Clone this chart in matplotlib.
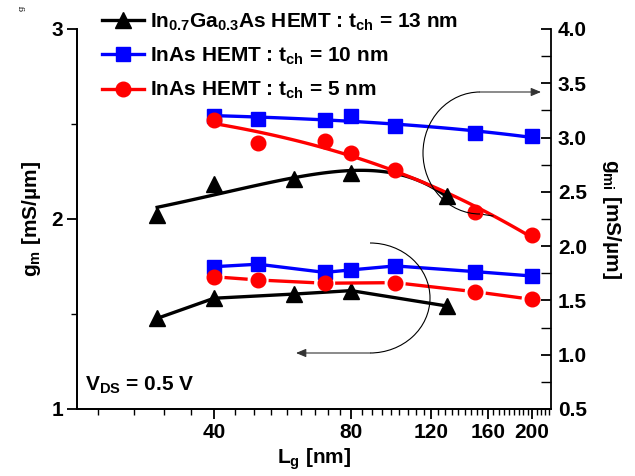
import numpy as np
import matplotlib
matplotlib.use("Agg")
import matplotlib.pyplot as plt
from matplotlib.lines import Line2D
from matplotlib.patches import Arc, FancyArrowPatch
from matplotlib.ticker import FixedLocator, NullFormatter

plt.rcParams['font.family'] = ['Liberation Sans', 'DejaVu Sans']
plt.rcParams['font.weight'] = 'bold'
plt.rcParams['axes.labelweight'] = 'bold'
plt.rcParams['mathtext.fontset'] = 'custom'
plt.rcParams['mathtext.rm'] = 'Liberation Sans:bold'
plt.rcParams['mathtext.it'] = 'Liberation Sans:bold'
plt.rcParams['mathtext.bf'] = 'Liberation Sans:bold'
plt.rcParams['mathtext.default'] = 'rm'

# ---- data ----
# In0.7Ga0.3As HEMT, t_ch = 13 nm
lg_ingaas = [30, 40, 60, 80, 130]
gm_ingaas = [1.477, 1.583, 1.605, 1.623, 1.542]     # left axis
gmi_ingaas = [2.29, 2.57, 2.62, 2.67, 2.46]         # right axis

# InAs HEMT, t_ch = 10 nm
lg_inas10 = [40, 50, 70, 80, 100, 150, 200]
gm_inas10 = [1.749, 1.762, 1.719, 1.732, 1.753, 1.723, 1.700]
gmi_inas10 = [3.20, 3.17, 3.16, 3.20, 3.11, 3.04, 3.01]

# InAs HEMT, t_ch = 5 nm
lg_inas5_gm = [40, 50, 70, 100, 150, 200]
gm_inas5 = [1.696, 1.679, 1.662, 1.665, 1.617, 1.577]
lg_inas5 = [40, 50, 70, 80, 100, 150, 200]
gmi_inas5 = [3.16, 2.95, 2.97, 2.86, 2.70, 2.31, 2.10]

labels = ["In$_{0.7}$Ga$_{0.3}$As HEMT : t$_{ch}$ = 13 nm",
          "InAs HEMT : t$_{ch}$ = 10 nm",
          "InAs HEMT : t$_{ch}$ = 5 nm"]
xticks = [40, 80, 120, 160, 200]

FS = 15
fig = plt.figure(figsize=(6.35, 4.76), dpi=100)
ax = fig.add_axes([77/635, 1-409/476, 474/635, 380/476])
ax2 = ax.twinx()

ax.set_xscale('log')
ax.set_xlim(20, 220)
ax.set_ylim(1, 3)
ax2.set_ylim(0.5, 4.0)

ax.xaxis.set_major_locator(FixedLocator(xticks))
ax.set_xticklabels([str(t) for t in xticks])
minor = [k*40/9 for k in range(1, 60) if 20 < k*40/9 < 220 and (k % 9) != 0]
ax.xaxis.set_minor_locator(FixedLocator(minor))
ax.xaxis.set_minor_formatter(NullFormatter())

ax.set_yticks([1, 2, 3])
ax.set_yticks([1.5, 2.5], minor=True)
ax2.set_yticks(np.arange(0.5, 4.01, 0.5))
ax2.set_yticklabels([f"{v:.1f}" for v in np.arange(0.5, 4.01, 0.5)])
ax2.set_yticks(np.arange(0.75, 4.0, 0.5), minor=True)

for a in (ax, ax2):
    a.spines['top'].set_visible(False)
    for s in a.spines.values():
        s.set_linewidth(1.3)
ax.spines['right'].set_visible(False)
ax.tick_params(axis='both', which='major', direction='out', length=7, width=1.3,
               labelsize=FS, pad=3)
ax.tick_params(axis='both', which='minor', direction='out', length=4, width=1.0)
ax2.tick_params(axis='y', which='major', direction='in', length=7, width=1.3,
                labelsize=FS, pad=5)
ax2.tick_params(axis='y', which='minor', direction='in', length=7, width=1.0)
for lab in ax.get_xticklabels() + ax.get_yticklabels() + ax2.get_yticklabels():
    lab.set_fontweight('bold')

LW = 2.4
# ---- lower group (left axis) ----
ax.plot(lg_inas10, gm_inas10, color='#0000ff', lw=LW, marker='s', ms=9.5, zorder=3)
ax.plot(lg_ingaas, gm_ingaas, color='black', lw=LW, marker='^', ms=11, zorder=3)
ax.plot(lg_inas5_gm, gm_inas5, ls='none', color='#ff0000', marker='o', ms=10.5, zorder=4)
# red line with gaps around its symbols
fig.canvas.draw()
disp = ax.transData.transform(np.column_stack([lg_inas5_gm, gm_inas5]))
gap = 10.5
for p, q in zip(disp[:-1], disp[1:]):
    d = q - p
    L = np.hypot(*d)
    u = d / L
    pts = np.array([p + u*gap, q - u*gap])
    dat = ax.transData.inverted().transform(pts)
    ax.plot(dat[:, 0], dat[:, 1], color='#ff0000', lw=LW, solid_capstyle='butt', zorder=3)

# ---- upper group (right axis) with fitted trend curves ----
def fitcurve(xs, ys):
    xs = np.asarray(xs, float)
    c = np.polyfit(xs, ys, 2)
    xx = np.linspace(xs[0], xs[-1], 120)
    return xx, np.polyval(c, xx)

for xs, ys, col, mk, ms in [(lg_inas10, gmi_inas10, '#0000ff', 's', 9.5),
                            (lg_ingaas, gmi_ingaas, 'black', '^', 11),
                            (lg_inas5, gmi_inas5, '#ff0000', 'o', 10.5)]:
    fx, fy = fitcurve(xs, ys)
    ax2.plot(fx, fy, color=col, lw=LW, zorder=2)
    ax2.plot(xs, ys, ls='none', color=col, marker=mk, ms=ms, zorder=3)

# ---- arrows showing axis ownership ----
def axfrac(px, py):
    return ((px - 77) / 474, (409 - py) / 380)

cx, cy = axfrac(480, 153)
ax2.add_patch(Arc((cx, cy), 114/474, 122/380, theta1=90, theta2=270,
                  transform=ax2.transAxes, color='black', lw=0.8, zorder=5))
ax2.plot(*zip(axfrac(480, 214), axfrac(493, 216)), transform=ax2.transAxes,
         color='black', lw=0.8)
ax2.add_patch(FancyArrowPatch(axfrac(480, 92), axfrac(541, 92), transform=ax2.transAxes,
                              arrowstyle='-|>,head_length=6,head_width=2.5',
                              color='#333333', lw=0.8, shrinkA=0, shrinkB=0, zorder=5))
cx, cy = axfrac(370, 298)
ax2.add_patch(Arc((cx, cy), 120/474, 110/380, theta1=-90, theta2=90,
                  transform=ax2.transAxes, color='black', lw=0.8, zorder=5))
ax2.add_patch(FancyArrowPatch(axfrac(370, 353), axfrac(296, 353), transform=ax2.transAxes,
                              arrowstyle='-|>,head_length=6,head_width=2.5',
                              color='#333333', lw=0.8, shrinkA=0, shrinkB=0, zorder=5))

# ---- text ----
ax.set_xlabel("L$_g$ [nm]", fontsize=FS, labelpad=3)
ax.set_ylabel("g$_m$ [mS/µm]", fontsize=FS, labelpad=6)
ax2.set_ylabel("g$_{mi}$ [mS/µm]", fontsize=FS, rotation=270, labelpad=26)
ax.text(*axfrac(85, 385), "V$_{DS}$ = 0.5 V", transform=ax.transAxes,
        fontsize=FS, ha='left', va='center')
fig.text(22/635, 1-8/476, "g", fontsize=6, rotation=90, family='DejaVu Serif',
         fontweight='normal', ha='center', va='center')

handles = [Line2D([], [], color='black', lw=LW, marker='^', ms=11),
           Line2D([], [], color='#0000ff', lw=LW, marker='s', ms=9.5),
           Line2D([], [], color='#ff0000', lw=LW, marker='o', ms=10.5)]
leg = ax2.legend(handles, labels, loc='upper left', bbox_to_anchor=(0.035, 1.068),
                 frameon=False, fontsize=FS, handlelength=2.0, handletextpad=0.3,
                 labelspacing=0.62, borderaxespad=0)

fig.savefig("out.png", dpi=100)
